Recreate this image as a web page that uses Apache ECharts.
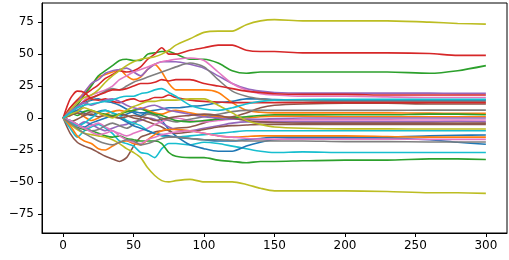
<!DOCTYPE html>
<html>
<head>
<meta charset="utf-8">
<script src="https://cdn.jsdelivr.net/npm/echarts@6/dist/echarts.min.js"></script>
<style>html,body{margin:0;padding:0;background:#fff}#c{width:509px;height:260px}</style>
</head>
<body>
<div id="c"></div>
<script>
const xs = [0,5,10,15,20,25,30,35,40,45,50,55,60,65,70,75,80,90,100,110,120,130,140,150,170,200,230,260,280,300];
const xTicks = [0,50,100,150,200,250,300];
const yTicks = [-75,-50,-25,0,25,50,75];
const colors = ['#1f77b4','#ff7f0e','#2ca02c','#d62728','#9467bd','#8c564b','#e377c2','#7f7f7f','#bcbd22','#17becf'];

const walk01 = [0,5,9,12,14,15,13,12,10,7,4,2,5,6,7,8,8,9,10,12,13,15,15,14.5,14,14,14,14,14,14];
const walk02 = [0,8,14,20,26,32,34,36,38,33,30,32,38,42,36,27,22,22,22,20,12,6,4.5,4,4,4,4,3.8,3.6,3.6];
const walk03 = [0,5,10,18,25,33,37,41,45,46,45,45,50,51,52,52,50,46,46,43,37,35,36,36,36,36,36,35,37,41];
const walk04 = [0,8,14,18,22,26,31,34,37,36,37,40,46,50,55,50,50,53,55,57,57,53,52,52,51,51,51,50.5,49,49];
const walk05 = [0,6,12,20,27,30,35,37,38,39,36,33,38,42,44,44,44,42,39,33,27,23,21,20,19.5,19.5,19.5,19.5,19.3,19.3];
const walk06 = [0,-12,-19,-22,-24,-27,-30,-32,-34,-31,-22,-15,-13,-11,-10,-9,-8,-7,-4,0,1,4,8,10,11,11.5,11.5,11,11,11];
const walk07 = [0,3,8,14,18,20,22,25,30,33,36,38,40,42,44,45,46,47,45,36,27,22,19,18,17,17,16.5,16,16,16];
const walk08 = [0,2,6,10,15,18,21,23,22,25,28,30,32,34,36,38,40,43,40,30,21,17,15,14,13.5,13,13,13,13,13];
const walk09 = [0,6,12,16,18,22,28,33,37,41,44,46,47,48,50,53,57,62,67,68,68,73,76,77,76,76,76,75,74,73.5];
const walk10 = [0,-8,-15,-10,-7,-5,-8,-12,-18,-20,-22,-27,-28,-31,-24,-20,-20,-21,-19,-20,-22,-24,-26,-27,-26.5,-27,-27,-27,-27,-27];
const walk11 = [0,3,6,4,2,5,6,4,2,3,5,4,4,3,-2,-9,-14,-21,-24,-26,-26,-22,-19,-17,-16,-16,-16,-17,-19,-20.5];
const walk12 = [0,2,4,1,-2,0,3,5,6,5,6,8,6,4,3,5,6,4,2,1,0,0,1,1.5,1.5,1,1,1,1,1];
const walk13 = [0,-4,-7,-9,-10,-12,-14,-15,-14,-16,-17,-18,-18,-18,-20,-27,-30,-31,-31,-33,-34,-35,-34,-34,-33.5,-33,-33,-32,-32,-32.5];
const walk14 = [0,4,9,13,16,18,20,22,22,23,25,27,27,28,30,29,30,30,27,25,23,21,20,19,18.5,18.5,18,18,18,18];
const walk15 = [0,-4,-6,-3,-5,-8,-10,-8,-6,-5,-3,-2,0,-1,-4,-7,-9,-10,-8,-6,-4,-3,-3,-3,-3,-3,-3,-3,-2.5,-2.9];
const walk16 = [0,-3,-1,2,3,1,2,1,3,2,0,-1,-3,-5,-7,-10,-12,-11,-9,-7,-6,-5.5,-5,-5,-5,-5,-5,-5,-5,-5];
const walk17 = [0,-3,-6,-8,-6,-4,-7,-10,-12,-14,-12,-10,-8,-5,-3,-1,0,-2,-3,-2,-1,-1,-1.5,-1.5,-1.5,-1.5,-1.5,-1.6,-1.6,-1.6];
const walk18 = [0,-2,-5,-8,-10,-9,-6,-4,-6,-8,-5,0,3,2,0,-2,-3,-1,1,3,5,6,6,6,6,6,6,6.2,6.2,6.2];
const walk19 = [0,-5,-9,-12,-13,-14,-15,-17,-20,-24,-27,-31,-39,-45,-49,-50,-49,-48,-50,-50,-50,-52,-55,-57,-57,-57,-57.5,-58.5,-58.5,-59];
const walk20 = [0,-3,-6,-4,0,4,6,4,2,-2,-4,-6,-10,-12,-14,-15,-15,-14,-13,-12,-11,-10,-10,-10,-10,-10,-10,-10,-10,-10];
const walk21 = [0,-2,-5,-7,-4,-2,0,2,0,-3,-6,-8,-10,-12,-13,-14,-15,-16,-17,-18,-18,-17,-16,-15,-15,-15,-15,-14,-13.5,-13.3];
const walk22 = [0,-6,-14,-18,-20,-24,-25,-22,-19,-18,-20,-21,-17,-13,-10,-9,-9,-10,-12,-14,-15,-14.5,-14,-14,-14,-14,-14.5,-15,-15,-15];
const walk23 = [0,4,2,5,6,4,3,2,3,5,6,7,5,3,2,0,-2,-3,-2,-1,0,1,2,2.5,2.5,2.5,2.5,3,3,2.6];
const walk24 = [0,15,21,20,15,14,15,13,12,14,15,13,14,16,16,18,16,14,13,12.5,12,12,12,12,12,12,12,12,12,12];
const walk25 = [0,5,9,12,10,12,14,15,13,10,8,7,9,10,8,6,5,3,1,0,-1,-1,-1,-0.5,0,0,0,0,0,0];
const walk26 = [0,2,4,3,5,4,2,1,0,1,2,1,0,-2,-1,0,1,2,3,2,0,-2,-3,-3.5,-4,-4,-4,-4,-4,-4];
const walk27 = [0,-2,-5,-8,-11,-13,-12,-10,-14,-17,-19,-20,-17,-15,-13,-12,-11,-10,-12,-14,-15,-16,-16.5,-16.5,-16.5,-16.5,-16.5,-16.7,-16.7,-16.7];
const walk28 = [0,-4,-8,-12,-15,-18,-20,-21,-19,-17,-18,-21,-20,-18,-16,-15,-15,-16,-17,-17,-17.5,-18,-18,-18,-18,-18.5,-18.5,-18.75,-18.75,-18.75];
const walk29 = [0,3,5,8,6,4,2,0,3,6,9,11,13,13,14,14,14,15,15,10,4,-2,-5,-7,-8,-8.5,-8.5,-8.6,-8.6,-8.6];
const walk30 = [0,4,8,10,11,12,13,14,16,17,17,19,20,22,23,20,17,10,7,6,8,11,13,14,14.5,14.6,14.6,14.6,14.6,14.6];

const walks = [walk01,walk02,walk03,walk04,walk05,walk06,walk07,walk08,walk09,walk10,
               walk11,walk12,walk13,walk14,walk15,walk16,walk17,walk18,walk19,walk20,
               walk21,walk22,walk23,walk24,walk25,walk26,walk27,walk28,walk29,walk30];

const fmt = v => String(v).replace('-', '\u2212');
const font = { fontFamily: 'DejaVu Sans', fontSize: 12, color: '#000' };

const series = walks.map((w, i) => ({
  type: 'line',
  data: w.map((v, j) => [xs[j], v]),
  showSymbol: false,
  smooth: 0.25,
  lineStyle: { width: 1.6, color: colors[i % 10] },
  itemStyle: { color: colors[i % 10] },
  animation: false,
  z: 2
}));

const chart = echarts.init(document.getElementById('c'), null, { renderer: 'canvas' });
chart.setOption({
  animation: false,
  grid: { left: 42, right: 2, top: 3, bottom: 27, show: true, borderColor: '#000', borderWidth: 1, backgroundColor: 'transparent' },
  xAxis: {
    type: 'value', min: -15, max: 315,
    splitLine: { show: false },
    axisLine: { show: true, onZero: false, lineStyle: { color: '#000', width: 1 } },
    axisTick: { show: true, length: 4, lineStyle: { color: '#000' }, customValues: xTicks },
    axisLabel: Object.assign({ margin: 7, formatter: fmt, customValues: xTicks }, font)
  },
  yAxis: {
    type: 'value', min: -90, max: 90,
    splitLine: { show: false },
    axisLine: { show: true, onZero: false, lineStyle: { color: '#000', width: 1 } },
    axisTick: { show: true, length: 4, lineStyle: { color: '#000' }, customValues: yTicks },
    axisLabel: Object.assign({ margin: 8, formatter: fmt, customValues: yTicks }, font)
  },
  series: series
});
</script>
</body>
</html>
